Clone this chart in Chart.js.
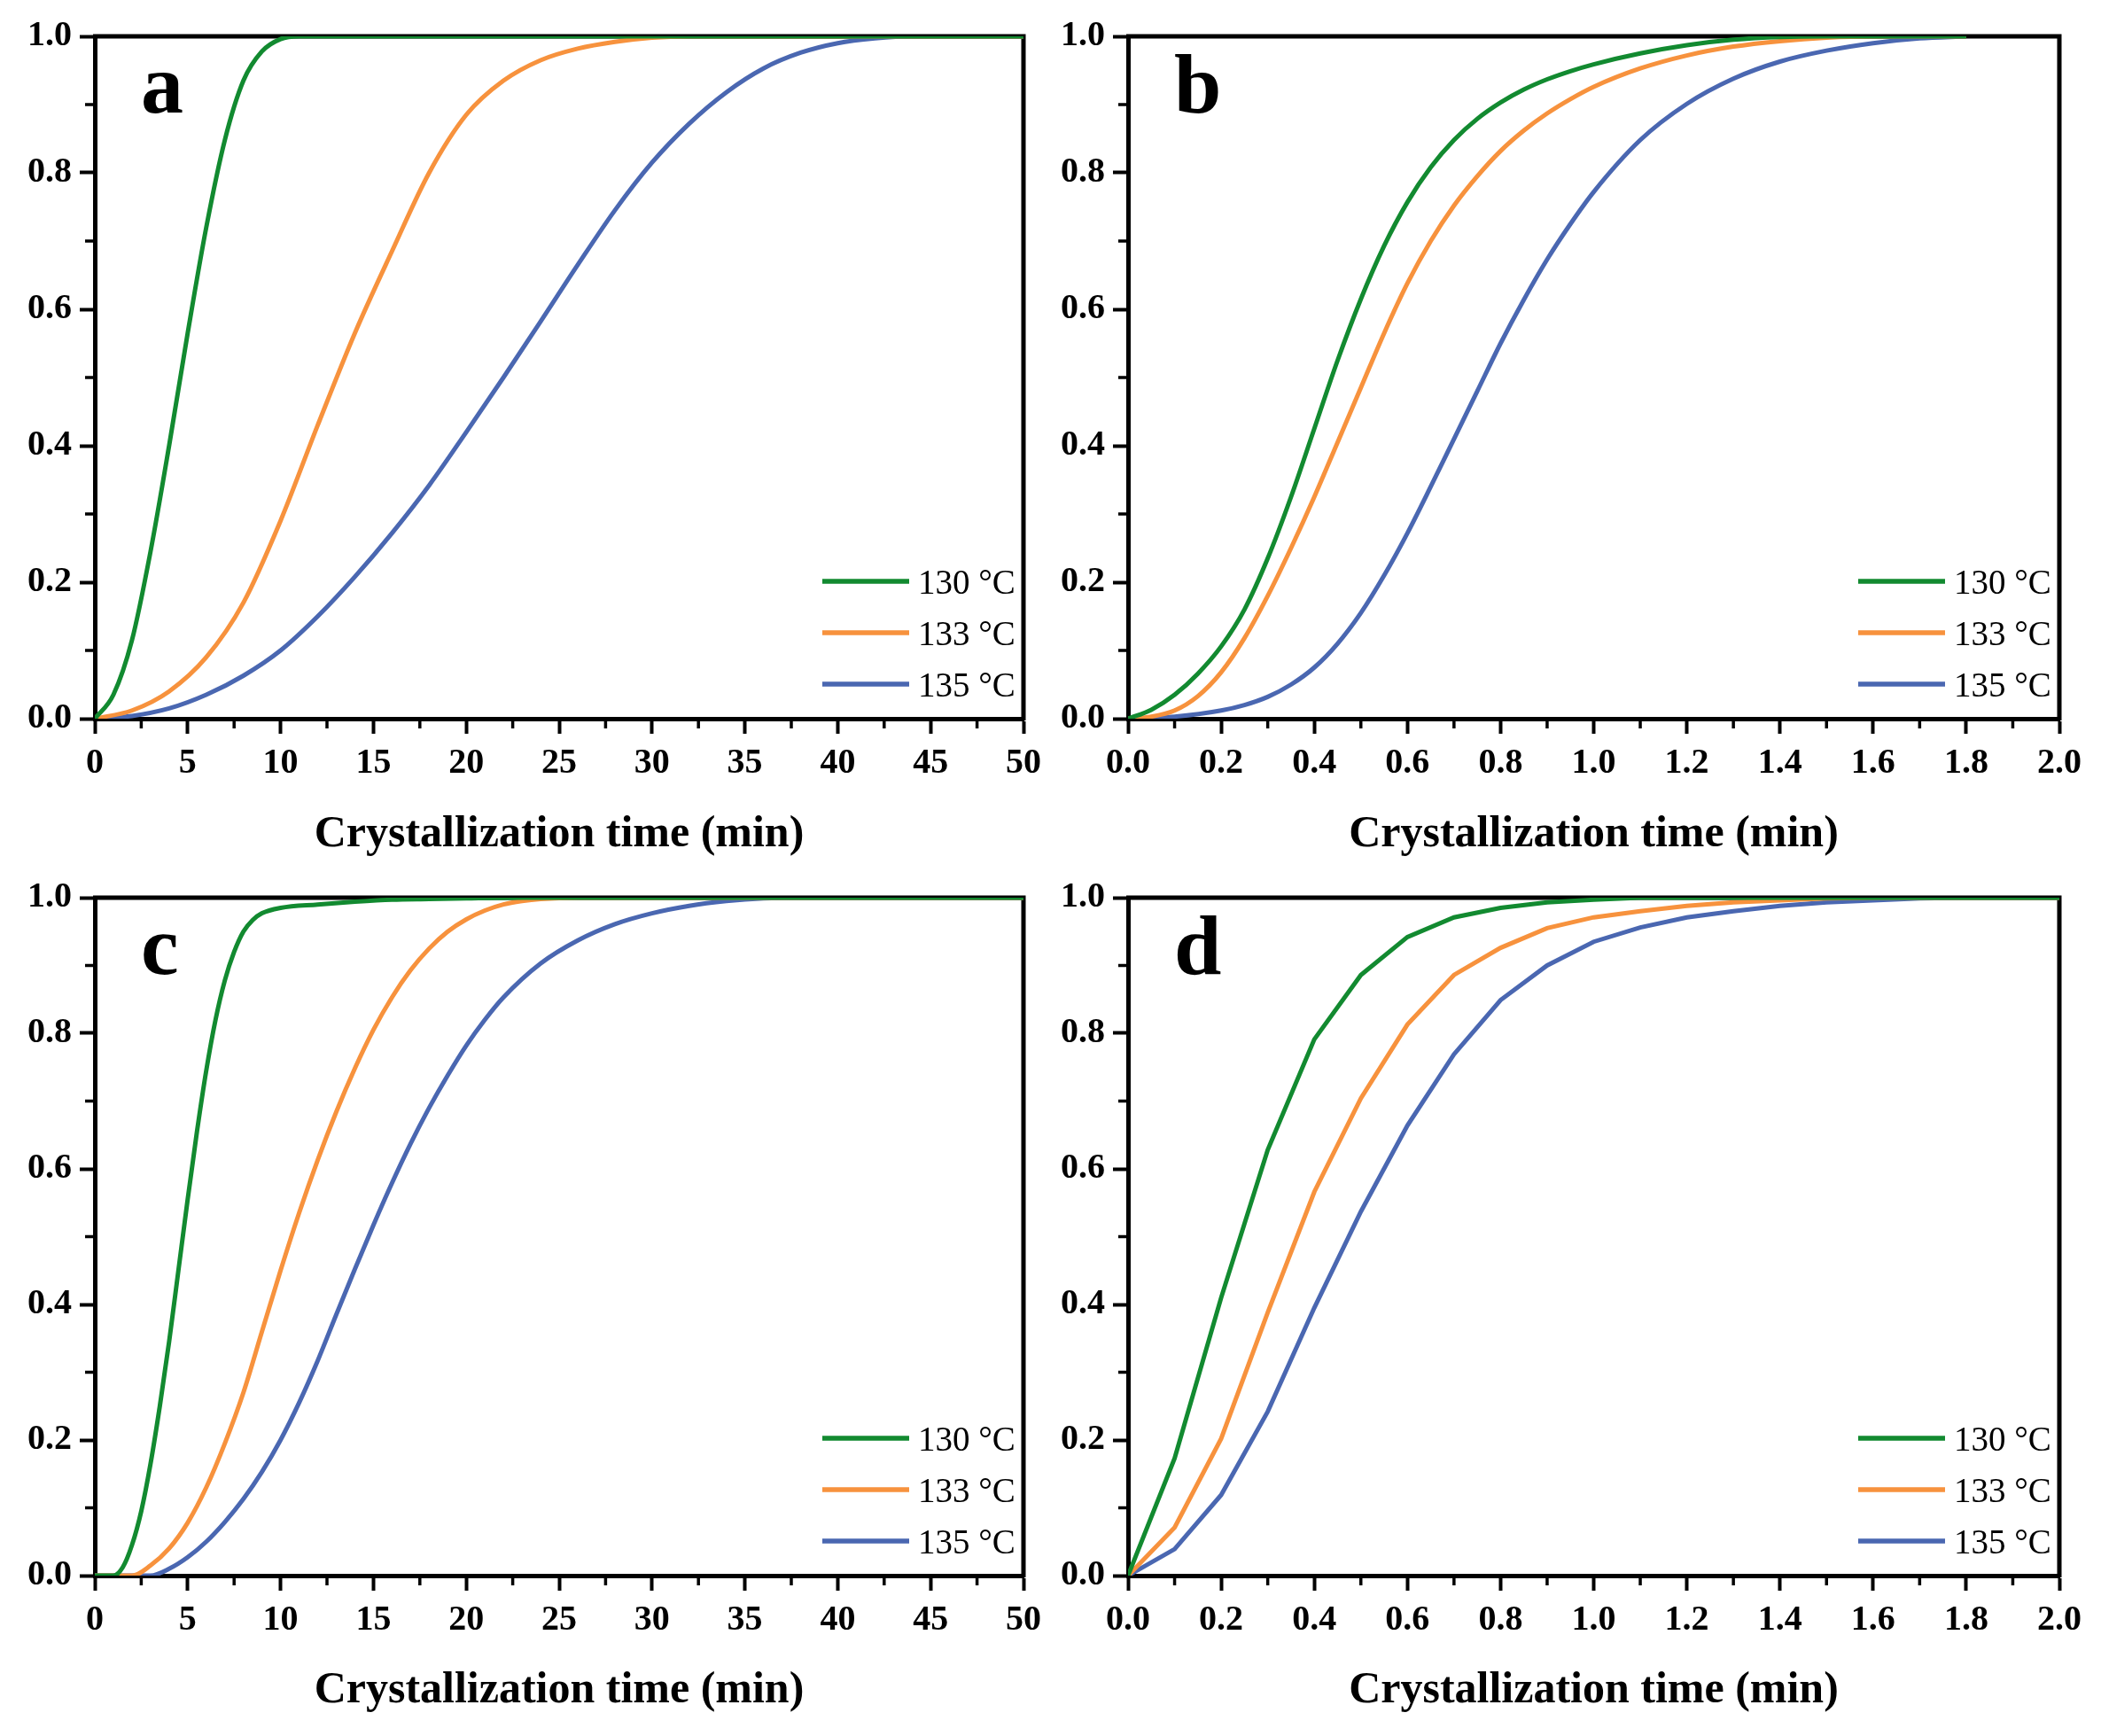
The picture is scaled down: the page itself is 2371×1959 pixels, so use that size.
<!DOCTYPE html>
<html>
<head>
<meta charset="utf-8">
<script src="https://cdn.jsdelivr.net/npm/chart.js@4.4.1/dist/chart.umd.min.js"></script>
<style>
  html, body { margin: 0; padding: 0; background: #fff; }
  body { width: 2371px; height: 1959px; position: relative; overflow: hidden; }
  canvas { position: absolute; }
</style>
</head>
<body>
<canvas id="chartA" width="1185" height="985" style="left:0px;top:0px"></canvas>
<canvas id="chartB" width="1186" height="985" style="left:1185px;top:0px"></canvas>
<canvas id="chartC" width="1185" height="979" style="left:0px;top:980px"></canvas>
<canvas id="chartD" width="1186" height="979" style="left:1185px;top:980px"></canvas>
<script>
// Legend entries and line colours
const seriesLabels = ["130 °C", "133 °C", "135 °C"];
const seriesColors = ["#128a30", "#f7923d", "#4a67b1"];
const xTitle = "Crystallization time (min)";

// Panel a (time in min, relative crystallinity)
const timeA130 = [0, 1, 2, 3, 4, 5, 6, 7, 8, 9, 10, 11, 12, 20, 30, 40, 50];
const fracA130 = [0, 0.035, 0.115, 0.245, 0.40, 0.565, 0.72, 0.848, 0.935, 0.978, 0.996, 1, 1, 1, 1, 1, 1];
const timeA133 = [0, 2, 4, 6, 8, 10, 12, 14, 16, 18, 20, 22, 24, 26, 28, 30, 32, 40, 50];
const fracA133 = [0, 0.012, 0.04, 0.09, 0.17, 0.29, 0.43, 0.565, 0.685, 0.80, 0.885, 0.935, 0.965, 0.982, 0.992, 0.998, 1, 1, 1];
const timeA135 = [0, 2, 4, 6, 8, 10, 12, 14, 16, 18, 20, 22, 24, 26, 28, 30, 32, 34, 36, 38, 40, 42, 44, 50];
const fracA135 = [0, 0.004, 0.015, 0.035, 0.063, 0.1, 0.15, 0.208, 0.272, 0.342, 0.42, 0.5, 0.582, 0.665, 0.745, 0.815, 0.872, 0.918, 0.953, 0.976, 0.99, 0.997, 1, 1];

// Panel b
const timeB130 = [0, 0.05, 0.1, 0.15, 0.2, 0.25, 0.3, 0.35, 0.4, 0.45, 0.5, 0.55, 0.6, 0.65, 0.7, 0.75, 0.8, 0.85, 0.9, 0.95, 1.0, 1.1, 1.2, 1.3, 1.4, 1.5, 1.8];
const fracB130 = [0, 0.013, 0.035, 0.066, 0.106, 0.16, 0.235, 0.325, 0.425, 0.525, 0.615, 0.693, 0.757, 0.808, 0.848, 0.879, 0.903, 0.922, 0.937, 0.949, 0.959, 0.975, 0.987, 0.995, 0.999, 1, 1];
const timeB133 = [0, 0.05, 0.1, 0.15, 0.2, 0.25, 0.3, 0.35, 0.4, 0.45, 0.5, 0.55, 0.6, 0.65, 0.7, 0.75, 0.8, 0.85, 0.9, 0.95, 1.0, 1.1, 1.2, 1.3, 1.4, 1.5, 1.6, 1.8];
const fracB133 = [0, 0.003, 0.012, 0.033, 0.068, 0.118, 0.18, 0.25, 0.325, 0.405, 0.485, 0.565, 0.638, 0.70, 0.752, 0.795, 0.832, 0.862, 0.887, 0.908, 0.926, 0.953, 0.972, 0.985, 0.993, 0.998, 1, 1];
const timeB135 = [0, 0.1, 0.2, 0.25, 0.3, 0.35, 0.4, 0.45, 0.5, 0.55, 0.6, 0.65, 0.7, 0.75, 0.8, 0.85, 0.9, 0.95, 1.0, 1.1, 1.2, 1.3, 1.4, 1.5, 1.6, 1.7, 1.8];
const fracB135 = [0, 0.003, 0.012, 0.02, 0.032, 0.05, 0.075, 0.11, 0.155, 0.21, 0.272, 0.34, 0.41, 0.48, 0.55, 0.614, 0.673, 0.725, 0.772, 0.848, 0.901, 0.938, 0.963, 0.979, 0.99, 0.997, 1];

// Panel c
const timeC130 = [0, 1, 1.5, 2, 2.5, 3, 3.5, 4, 4.5, 5, 5.5, 6, 6.5, 7, 7.5, 8, 8.5, 9, 10, 12, 14, 16, 18, 20, 23, 30, 40, 50];
const fracC130 = [0, 0, 0.012, 0.045, 0.095, 0.165, 0.25, 0.345, 0.45, 0.555, 0.655, 0.745, 0.82, 0.878, 0.92, 0.95, 0.967, 0.977, 0.985, 0.99, 0.994, 0.997, 0.998, 0.999, 1, 1, 1, 1];
const timeC133 = [0, 2, 3, 4, 5, 6, 7, 8, 9, 10, 11, 12, 13, 14, 15, 16, 17, 18, 19, 20, 21, 22, 23, 24, 26, 30, 40, 50];
const fracC133 = [0, 0, 0.015, 0.04, 0.078, 0.13, 0.195, 0.27, 0.36, 0.45, 0.535, 0.613, 0.684, 0.748, 0.805, 0.853, 0.893, 0.925, 0.95, 0.968, 0.981, 0.99, 0.995, 0.998, 1, 1, 1, 1];
const timeC135 = [0, 3, 4, 5, 6, 7, 8, 9, 10, 11, 12, 13, 14, 15, 16, 17, 18, 19, 20, 21, 22, 24, 26, 28, 30, 32, 34, 36, 38, 50];
const fracC135 = [0, 0, 0.01, 0.027, 0.05, 0.079, 0.113, 0.153, 0.2, 0.255, 0.317, 0.385, 0.452, 0.517, 0.579, 0.637, 0.69, 0.738, 0.782, 0.82, 0.853, 0.903, 0.937, 0.961, 0.977, 0.988, 0.995, 0.999, 1, 1];

// Panel d (measured every 0.1 min)
const timeD = [0, 0.1, 0.2, 0.3, 0.4, 0.5, 0.6, 0.7, 0.8, 0.9, 1.0, 1.1, 1.2, 1.3, 1.4, 1.5, 1.6, 1.7, 1.8, 1.9, 2.0];
const fracD130 = [0, 0.173, 0.41, 0.628, 0.791, 0.886, 0.942, 0.971, 0.985, 0.993, 0.997, 1, 1, 1, 1, 1, 1, 1, 1, 1, 1];
const fracD133 = [0, 0.071, 0.202, 0.388, 0.566, 0.704, 0.813, 0.886, 0.926, 0.955, 0.971, 0.98, 0.988, 0.993, 0.996, 0.999, 1, 1, 1, 1, 1];
const fracD135 = [0, 0.039, 0.119, 0.242, 0.395, 0.537, 0.664, 0.769, 0.849, 0.9, 0.935, 0.956, 0.971, 0.98, 0.988, 0.993, 0.996, 0.999, 1, 1, 1];

const serif = '"Liberation Serif", "Times New Roman", serif';
Chart.defaults.font.family = serif;
Chart.defaults.color = "#000";

// frame, minor ticks, panel letter and the legend inside the plot
const panelDecor = {
  id: "panelDecor",
  beforeDatasetsDraw(chart) {
    const ctx = chart.ctx, a = chart.chartArea;
    const xs = chart.scales.x, ys = chart.scales.y;
    ctx.save();
    ctx.strokeStyle = "#000";
    ctx.lineWidth = 5;
    ctx.beginPath();
    ctx.moveTo(a.left - 2, a.top);
    ctx.lineTo(a.right, a.top);
    ctx.lineTo(a.right, a.bottom + 2);
    ctx.stroke();
    ctx.lineWidth = 3.5;
    for (let i = 0; i < xs.ticks.length - 1; i++) {
      const px = xs.getPixelForValue((xs.ticks[i].value + xs.ticks[i + 1].value) / 2);
      ctx.beginPath();
      ctx.moveTo(px, a.bottom);
      ctx.lineTo(px, a.bottom + 11);
      ctx.stroke();
    }
    for (let i = 0; i < ys.ticks.length - 1; i++) {
      const py = ys.getPixelForValue((ys.ticks[i].value + ys.ticks[i + 1].value) / 2);
      ctx.beginPath();
      ctx.moveTo(a.left, py);
      ctx.lineTo(a.left - 11, py);
      ctx.stroke();
    }
    ctx.restore();
  },
  afterDatasetsDraw(chart, args, opts) {
    const ctx = chart.ctx, a = chart.chartArea;
    ctx.save();
    ctx.fillStyle = "#000";
    ctx.font = "bold 96px " + serif;
    ctx.textBaseline = "alphabetic";
    ctx.textAlign = "left";
    ctx.fillText(opts.letter, a.left + 52, a.top + 86);

    ctx.font = "39px " + serif;
    ctx.textBaseline = "middle";
    const rows = [155, 97, 39];
    chart.data.datasets.forEach((ds, i) => {
      const y = a.bottom - rows[i];
      ctx.strokeStyle = ds.borderColor;
      ctx.lineWidth = 5.5;
      ctx.beginPath();
      ctx.moveTo(a.right - 227, y);
      ctx.lineTo(a.right - 129, y);
      ctx.stroke();
      ctx.fillText(ds.label, a.right - 119, y + 4);
    });
    ctx.restore();
  }
};

function makePanel(id, letter, xMax, xStep, xDigits, times, fracs, smooth, pad, yWidth, xHeight, titlePad) {
  const datasets = fracs.map((f, i) => ({
    label: seriesLabels[i],
    data: times[i].map((t, j) => ({ x: t, y: f[j] })),
    borderColor: seriesColors[i],
    backgroundColor: seriesColors[i],
    borderWidth: 5,
    pointRadius: 0,
    fill: false,
    tension: smooth ? 0.4 : 0,
    cubicInterpolationMode: smooth ? "monotone" : "default"
  }));

  return new Chart(document.getElementById(id), {
    type: "line",
    data: { datasets: datasets },
    options: {
      responsive: false,
      animation: false,
      devicePixelRatio: 1,
      events: [],
      layout: { padding: pad },
      plugins: {
        legend: { display: false },
        tooltip: { enabled: false },
        panelDecor: { letter: letter }
      },
      scales: {
        x: {
          type: "linear",
          min: 0,
          max: xMax,
          afterFit: (s) => { s.height = xHeight; },
          border: { display: true, color: "#000", width: 5 },
          grid: { display: true, drawOnChartArea: false, drawTicks: true, tickLength: 17, tickWidth: 4, tickColor: "#000" },
          ticks: {
            stepSize: xStep,
            autoSkip: false,
            maxRotation: 0,
            padding: 10,
            color: "#000",
            font: { size: 40, weight: "bold" },
            callback: (v) => Number(v).toFixed(xDigits)
          },
          title: {
            display: true,
            text: xTitle,
            color: "#000",
            font: { size: 50, weight: "bold", lineHeight: 1.2 },
            padding: { top: 0, bottom: titlePad }
          }
        },
        y: {
          min: 0,
          max: 1,
          afterFit: (s) => { s.width = yWidth; },
          border: { display: true, color: "#000", width: 5 },
          grid: { display: true, drawOnChartArea: false, drawTicks: true, tickLength: 17, tickWidth: 4, tickColor: "#000" },
          ticks: {
            stepSize: 0.2,
            padding: 9,
            color: "#000",
            font: { size: 40, weight: "bold" },
            callback: (v) => Number(v).toFixed(1)
          }
        }
      }
    },
    plugins: [panelDecor]
  });
}

makePanel("chartA", "a", 50, 5, 0,
  [timeA130, timeA133, timeA135], [fracA130, fracA133, fracA135], true,
  { top: 41, right: 28, left: 0, bottom: 0 }, 107, 174, 13);
makePanel("chartB", "b", 2, 0.2, 1,
  [timeB130, timeB133, timeB135], [fracB130, fracB133, fracB135], true,
  { top: 41, right: 47, left: 0, bottom: 0 }, 88, 174, 13);
makePanel("chartC", "c", 50, 5, 0,
  [timeC130, timeC133, timeC135], [fracC130, fracC133, fracC135], true,
  { top: 26, right: 28, left: 0, bottom: 0 }, 107, 181, 21);
makePanel("chartD", "d", 2, 0.2, 1,
  [timeD, timeD, timeD], [fracD130, fracD133, fracD135], false,
  { top: 26, right: 47, left: 0, bottom: 0 }, 88, 181, 21);
</script>
</body>
</html>
